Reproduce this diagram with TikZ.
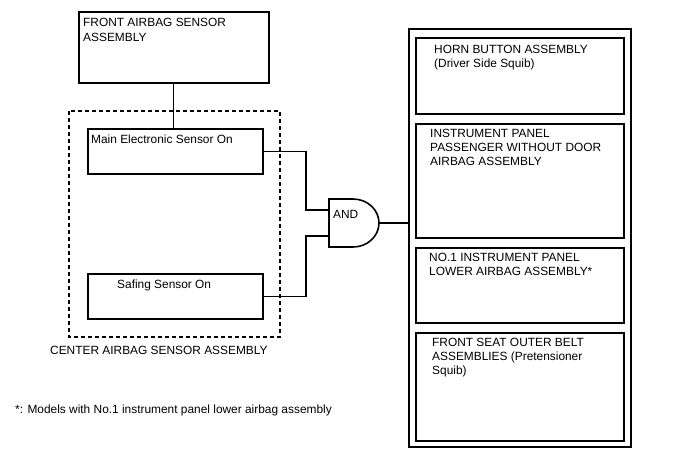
\documentclass[tikz,border=0pt]{standalone}
\usepackage{fontspec}
\setmainfont{Liberation Sans}
\usetikzlibrary{positioning}
\tikzset{every node/.style={font=\fontsize{11.9}{14}\selectfont},
  box/.style={draw, line width=1.6pt, inner sep=0pt, anchor=north west},
  txt/.style={anchor=base west, inner sep=0pt, align=left},
  wire/.style={line width=1.3pt}}

\begin{document}
\begin{tikzpicture}[x=1pt, y=-1pt]
  \useasboundingbox (0,0) rectangle (688,463);
  % left side: sensors (multi-line texts sit on their last baseline)
  \node[box, minimum width=190pt, minimum height=71pt] (front) at (78,11) {};
  \node[txt] (fronttxt) at (83,41) {FRONT AIRBAG SENSOR\\ASSEMBLY};
  \draw[line width=1.3pt, dash pattern=on 4pt off 3pt] (69,111) rectangle (280,337);
  \node[txt] (centertxt) at (50,354) {CENTER AIRBAG SENSOR ASSEMBLY};
  \node[box, minimum width=175pt, minimum height=45pt] (main) at (87,128) {};
  \node[txt] (maintxt) at (91,143) {Main Electronic Sensor On};
  \node[box, minimum width=175pt, minimum height=45pt] (safing) at (87,273) {};
  \node[txt] (safingtxt) at (117,288) {Safing Sensor On};
  % and gate
  \draw[line width=1.6pt] (329,199) -- (353,199)
    arc[start angle=-90, end angle=90, x radius=26, y radius=24] -- (329,247) -- cycle;
  \node[txt] (andtxt) at (333,218) {AND};
  \coordinate (in1) at (329,210);
  \coordinate (in2) at (329,236);
  \coordinate (out) at (379,223);
  % right side: squibs
  \node[box, minimum width=222pt, minimum height=418pt] (outer) at (408,28) {};
  \node[box, minimum width=208pt, minimum height=76pt] (horn) at (415,37) {};
  \node[txt] (horntxt) at (434,67) {HORN BUTTON ASSEMBLY\\(Driver Side Squib)};
  \node[box, minimum width=208pt, minimum height=114pt] (panel) at (415,123) {};
  \node[txt] (paneltxt) at (430,165) {INSTRUMENT PANEL\\PASSENGER WITHOUT DOOR\\AIRBAG ASSEMBLY};
  \node[box, minimum width=208pt, minimum height=75pt] (lower) at (415,247) {};
  \node[txt] (lowertxt) at (429,275) {NO.1 INSTRUMENT PANEL\\LOWER AIRBAG ASSEMBLY*};
  \node[box, minimum width=208pt, minimum height=108pt] (belt) at (415,332) {};
  \node[txt] (belttxt) at (432,374) {FRONT SEAT OUTER BELT\\ASSEMBLIES (Pretensioner\\Squib)};
  \node[txt] (note) at (15,413) {*: Models with No.1 instrument panel lower airbag assembly};
  % wiring
  \draw[wire] (front.south) -- (front.south |- main.north);
  \draw[wire] (main.east) -| (306,210) -- (in1);
  \draw[wire] (safing.east) -| (306,236) -- (in2);
  \draw[wire] (out) -- (outer.west |- out);
\end{tikzpicture}
\end{document}
